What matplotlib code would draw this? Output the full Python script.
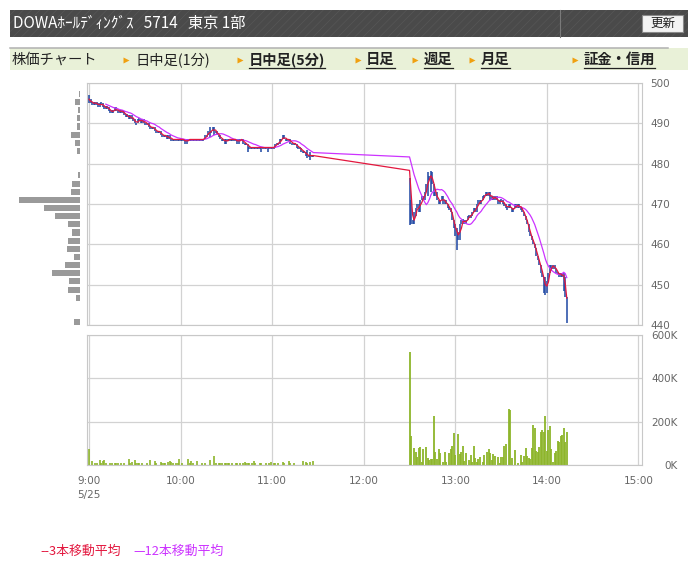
import numpy as np
import pandas as pd
import matplotlib
matplotlib.use("Agg")
import matplotlib.pyplot as plt
from matplotlib.patches import Rectangle

plt.rcParams["font.family"] = ["Noto Sans CJK JP", "DejaVu Sans"]
plt.rcParams["hatch.linewidth"] = 0.6

W, H = 699, 563

# 1分足の終値 (9:00-11:27)
am_close = [496, 495, 495, 495, 495, 495, 494, 495, 495, 494,
            494, 494, 494, 493, 493, 493, 493, 494, 493, 493,
            493, 493, 493, 492, 492, 492, 491, 492, 491, 491,
            490, 490, 491, 491, 490, 491, 490, 490, 490, 489,
            489, 489, 489, 488, 488, 488, 488, 487, 487, 487,
            487, 486, 487, 486, 486, 486, 486, 486, 486, 486,
            486, 486, 486, 485, 486, 486, 486, 486, 486, 486,
            486, 486, 486, 486, 486, 486, 487, 487, 488, 488,
            488, 489, 488, 488, 487, 487, 486, 486, 486, 485,
            486, 486, 486, 486, 486, 486, 486, 485, 486, 486,
            486, 485, 485, 485, 484, 484, 484, 484, 484, 484,
            484, 484, 484, 484, 484, 484, 484, 484, 484, 484,
            484, 484, 485, 485, 485, 486, 486, 487, 486, 486,
            486, 486, 485, 485, 485, 485, 484, 484, 484, 483,
            483, 483, 482, 482, 482, 482, 482, 482]

# 1分足の終値 (12:30-14:13)
pm_open = 476
pm_close = [471, 466, 465, 467, 469, 470, 468, 471, 472, 471,
            473, 475, 477, 476, 478, 475, 472, 473, 471, 470,
            471, 472, 470, 471, 470, 469, 469, 468, 466, 464,
            463, 463, 461, 465, 466, 466, 465, 466, 467, 467,
            467, 468, 469, 468, 470, 471, 470, 471, 472, 472,
            473, 472, 473, 471, 472, 471, 472, 471, 470, 471,
            471, 470, 470, 469, 469, 470, 469, 468, 469, 470,
            469, 470, 469, 469, 468, 467, 466, 465, 463, 462,
            461, 460, 459, 457, 456, 455, 453, 452, 450, 448,
            451, 453, 455, 454, 455, 454, 453, 453, 452, 453,
            452, 452, 447, 441]

# ヒゲの長い足 (9:00からの分, 安値, 高値)
spike_min = [0, 79, 82, 104, 113, 117, 143, 145, 210, 211, 213, 222, 224, 240, 241, 298, 299, 311, 313]
spike_low = [495, 486.5, 487, 482.8, 482.8, 482.8, 481.5, 481, 464.7, 465, 465, 472, 473, 462, 458.5, 448, 447.5, 448.5, 440.5]
spike_high = [497, 489.2, 489, 485, 484.2, 484.2, 483.5, 483, 476.5, 469, 468, 478, 478.3, 465, 464, 452, 452, 453, 447]

# 出来高 (千株)
am_vol_min = [0, 2, 4, 5, 7, 8, 9, 10, 11, 14, 15, 17, 18, 19, 21, 23, 26, 27, 28,
              30, 31, 32, 33, 35, 38, 40, 43, 44, 47, 48, 49, 50, 52, 53, 54, 55,
              57, 58, 59, 61, 65, 66, 67, 68, 71, 74, 76, 79, 82, 83, 85, 86, 87,
              89, 90, 91, 92, 94, 96, 97, 99, 101, 102, 103, 104, 105, 107, 108, 109,
              112, 113, 116, 118, 119, 121, 122, 124, 127, 128, 131, 132, 134, 140,
              142, 143, 145, 147]
am_vol = [74, 20, 8, 8, 25, 8, 20, 23, 8, 8, 8, 8, 8, 8, 8, 8, 30, 8, 15,
          23, 8, 8, 8, 8, 10, 23, 20, 8, 15, 8, 8, 10, 15, 20, 15, 10,
          8, 8, 30, 8, 28, 10, 20, 8, 20, 8, 8, 25, 41, 10, 10, 10, 8,
          10, 10, 8, 10, 8, 10, 10, 8, 10, 15, 10, 10, 8, 8, 20, 8,
          8, 8, 8, 8, 15, 8, 8, 8, 15, 8, 20, 8, 10, 20,
          15, 8, 15, 20]
pm_vol = [520, 133, 0, 78, 58, 38, 80, 83, 15, 75,
          0, 83, 34, 21, 28, 29, 225, 60, 29, 75,
          54, 0, 15, 60, 15, 0, 54, 75, 87, 149,
          45, 0, 143, 52, 58, 89, 18, 54, 0, 23,
          46, 15, 87, 34, 15, 26, 38, 0, 15, 46,
          0, 58, 74, 54, 23, 51, 41, 0, 37, 8,
          37, 38, 89, 95, 0, 258, 253, 34, 0, 69,
          0, 8, 0, 46, 14, 41, 80, 41, 31, 26,
          80, 184, 172, 63, 60, 83, 152, 161, 152, 225,
          66, 163, 179, 74, 15, 54, 64, 110, 106, 133,
          138, 173, 106, 152]

# 価格帯別出来高
profile_price = np.linspace(497.3, 440.7, 29)
profile_vol = [10, 50, 25, 30, 30, 90, 50, 30, 0, 0, 20, 80, 90, 610, 360,
               250, 120, 80, 120, 130, 60, 150, 280, 110, 120, 40, 0, 0, 60]

hour_ticks = [0, 60, 120, 180, 240, 300, 360]
hour_labels = ["9:00\n5/25", "10:00", "11:00", "12:00", "13:00", "14:00", "15:00"]
price_ticks = [440, 450, 460, 470, 480, 490, 500]
vol_ticks = [0, 200, 400, 600]
vol_labels = ["0K", "200K", "400K", "600K"]

c_candle = "#1d46a3"
c_ma3 = "#e3173e"
c_ma12 = "#cc33ff"
c_vol = "#8db52b"
c_grid = "#d2d2d2"
c_tick = "#666666"

fig = plt.figure(figsize=(W / 100, H / 100), dpi=100)


def px_axes(x0, y0, x1, y1):
    return fig.add_axes([x0 / W, 1 - y1 / H, (x1 - x0) / W, (y1 - y0) / H])


# 背景 (ヘッダー・タブ・凡例)
bg = fig.add_axes([0, 0, 1, 1])
bg.set_xlim(0, W)
bg.set_ylim(H, 0)
bg.axis("off")
bg.set_zorder(-1)

bg.add_patch(Rectangle((10, 10), 678, 27, facecolor="#4a4a4a", edgecolor="none"))
bg.add_patch(Rectangle((10, 10), 678, 27, fill=False, hatch="////", edgecolor="#555555", lw=0))
bg.plot([560, 560], [10, 37], color="#7a7a7a", lw=0.8)
bg.text(13, 23.5, "DOWAﾎｰﾙﾃﾞｨﾝｸﾞｽ   5714   東京 1部", color="white", fontsize=11, va="center", ha="left")
bg.add_patch(Rectangle((642, 15), 41, 17, facecolor="#f3f3f3", edgecolor="#8a8a8a", lw=0.8))
bg.text(662.5, 23.5, "更新", color="#222222", fontsize=9, va="center", ha="center")

bg.add_patch(Rectangle((10, 48), 678, 22, facecolor="#e9f1d8", edgecolor="none"))
bg.plot([10, 668], [47.5, 47.5], color="#b0b0b0", lw=1.1)

tabs = [("株価チャート", 12, None, False), ("日中足(1分)", 135, 126, False),
        ("日中足(5分)", 249, 240, True), ("日足", 366, 358, True),
        ("週足", 424, 415, True), ("月足", 481, 472, True),
        ("証金・信用", 584, 575, True)]
tab_texts = []
for label, tx, ax_tri, bold in tabs:
    t = bg.text(tx, 59.5, label, fontsize=10.3, va="center", ha="left", color="#222222",
                fontweight="bold" if bold else "normal")
    tab_texts.append((t, bold))
    if ax_tri is not None:
        bg.plot(ax_tri, 59.5, marker=">", ms=4, color="#f0a010", mec="none")

bg.text(40, 551, "--3本移動平均", color=c_ma3, fontsize=9.3, va="center", ha="left")
bg.text(133, 551, "—12本移動平均", color=c_ma12, fontsize=9.3, va="center", ha="left")

# 株価チャート
ppm = 549.5 / 360
xlim = (-2 / ppm, 553 / ppm)

ax = px_axes(87, 83, 642, 325)
mins = np.r_[np.arange(len(am_close)), np.arange(210, 210 + len(pm_close))]
close = np.array(am_close + pm_close, dtype=float)
opens = np.r_[close[0], close[:-1]]
opens[len(am_close)] = pm_open
hi = np.maximum(opens, close)
lo = np.minimum(opens, close)
flat = hi - lo < 0.5
hi[flat] += 0.2
lo[flat] -= 0.45
idx = {m: i for i, m in enumerate(mins)}
for m, l, h in zip(spike_min, spike_low, spike_high):
    i = idx[m]
    lo[i] = min(lo[i], l)
    hi[i] = max(hi[i], h)

s = pd.Series(close)
ma3 = s.rolling(3, min_periods=1).mean()
ma12 = s.rolling(12).mean()

ax.vlines(mins, lo, hi, color=c_candle, lw=1.1, zorder=3)
ax.plot(mins, ma12, color=c_ma12, lw=0.9, zorder=4)
ax.plot(mins, ma3, color=c_ma3, lw=0.9, zorder=5)

ax.set_xlim(*xlim)
ax.set_ylim(440, 500)
ax.set_xticks(hour_ticks)
ax.set_xticklabels([])
ax.set_yticks(price_ticks)
ax.yaxis.tick_right()
ax.tick_params(axis="both", length=0)
ax.tick_params(axis="y", pad=6, labelsize=7.5, labelcolor=c_tick)
ax.grid(True, color=c_grid, lw=0.9)
ax.set_axisbelow(True)
for sp in ax.spines.values():
    sp.set_color("#c8c8c8")

# 価格帯別出来高
pax = px_axes(18, 83, 80, 325)
pax.barh(profile_price, profile_vol, height=1.5, color="#9a9a9a")
pax.set_xlim(620, 0)
pax.set_ylim(440, 500)
pax.axis("off")

# 出来高
vax = px_axes(87, 335, 642, 465)
vax.vlines(np.array(am_vol_min), 0, am_vol, color=c_vol, lw=1.2)
vax.vlines(np.arange(210, 210 + len(pm_vol)), 0, pm_vol, color=c_vol, lw=1.3)
vax.set_xlim(*xlim)
vax.set_ylim(0, 600)
vax.set_xticks(hour_ticks)
vax.set_xticklabels(hour_labels, fontsize=7.5, color=c_tick, family="DejaVu Sans", linespacing=1.45)
vax.set_yticks(vol_ticks)
vax.set_yticklabels(vol_labels)
vax.yaxis.tick_right()
vax.tick_params(axis="both", length=0)
vax.tick_params(axis="x", pad=8)
vax.tick_params(axis="y", pad=26, labelsize=7.5, labelcolor=c_tick)
for lbl in vax.get_yticklabels():
    lbl.set_horizontalalignment("right")
for lbl in ax.get_yticklabels() + vax.get_xticklabels() + vax.get_yticklabels():
    lbl.set_family("DejaVu Sans")
vax.grid(True, color=c_grid, lw=0.9)
vax.set_axisbelow(True)
for sp in vax.spines.values():
    sp.set_color("#c8c8c8")

# リンクの下線
fig.canvas.draw()
r = fig.canvas.get_renderer()
inv = bg.transData.inverted()
for t, bold in tab_texts:
    if bold:
        bb = t.get_window_extent(r)
        (x0, _), (x1, _) = inv.transform([(bb.x0, bb.y0), (bb.x1, bb.y0)])
        bg.plot([x0, x1], [67.5, 67.5], color="#222222", lw=0.9)

fig.savefig("out.png", dpi=100)
